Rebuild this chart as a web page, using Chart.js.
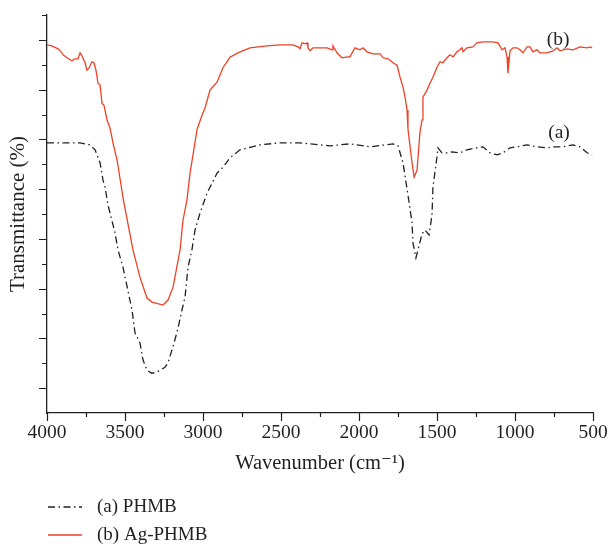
<!DOCTYPE html>
<html>
<head>
<meta charset="utf-8">
<script src="https://cdn.jsdelivr.net/npm/chart.js@4/dist/chart.umd.min.js"></script>
<style>
  html, body { margin: 0; padding: 0; background: #ffffff; }
  #wrap { width: 608px; height: 544px; position: relative; }
</style>
</head>
<body>
<div id="wrap"><canvas id="c" width="608" height="544"></canvas></div>
<script>
// ---- Data ----
const xTickLabels = [4000, 3500, 3000, 2500, 2000, 1500, 1000, 500];

// (a) PHMB
const phmbWavenumber = [4000, 3981, 3833, 3788, 3724, 3692, 3660, 3641, 3628, 3609, 3596, 3564, 3545, 3513, 3455, 3436, 3404, 3385, 3359, 3340, 3327, 3295, 3276, 3244, 3224, 3199, 3180, 3160, 3135, 3115, 3096, 3071, 3051, 3019, 2974, 2910, 2872, 2827, 2763, 2635, 2506, 2378, 2186, 2058, 1929, 1782, 1750, 1718, 1686, 1660, 1654, 1635, 1622, 1596, 1577, 1551, 1532, 1526, 1500, 1494, 1468, 1436, 1404, 1353, 1308, 1244, 1205, 1160, 1115, 1077, 1032, 987, 923, 859, 795, 756, 692, 628, 583, 538, 506];
const phmbTransmittance = [54.3, 54.3, 54.3, 54.3, 53.9, 52.9, 50.3, 46.8, 45.4, 41.8, 40.2, 36.2, 32.8, 29.3, 20.7, 16.1, 14.1, 10.7, 8.6, 8.2, 8.0, 8.2, 8.6, 9.2, 10.1, 12.7, 14.7, 17.1, 20.7, 23.3, 29.3, 32.8, 36.8, 40.2, 44.2, 48.2, 49.4, 51.3, 52.9, 53.9, 54.3, 54.3, 53.7, 54.1, 53.5, 54.1, 53.7, 50.3, 43.8, 38.2, 34.2, 31.2, 32.8, 36.0, 36.8, 35.8, 39.8, 45.4, 51.5, 53.3, 52.3, 52.3, 52.5, 52.3, 52.9, 53.3, 53.5, 52.3, 51.9, 52.3, 53.3, 53.5, 53.9, 53.5, 53.3, 53.5, 53.5, 53.9, 53.5, 52.3, 51.9];

// (b) Ag-PHMB
const agWavenumber = [4000, 3970, 3929, 3904, 3897, 3872, 3840, 3821, 3801, 3788, 3776, 3756, 3744, 3731, 3712, 3699, 3686, 3673, 3660, 3647, 3635, 3615, 3596, 3577, 3551, 3510, 3449, 3404, 3359, 3327, 3256, 3224, 3192, 3147, 3128, 3103, 3083, 3038, 3006, 2987, 2955, 2910, 2872, 2827, 2776, 2699, 2590, 2506, 2423, 2391, 2378, 2365, 2346, 2333, 2327, 2314, 2295, 2282, 2250, 2205, 2173, 2167, 2141, 2109, 2071, 2058, 2026, 1994, 1974, 1949, 1910, 1865, 1846, 1814, 1782, 1756, 1737, 1718, 1705, 1692, 1686, 1660, 1647, 1628, 1609, 1596, 1590, 1564, 1545, 1526, 1500, 1481, 1462, 1436, 1417, 1397, 1372, 1353, 1340, 1333, 1308, 1269, 1244, 1205, 1141, 1109, 1083, 1064, 1051, 1045, 1032, 1013, 987, 968, 949, 923, 904, 885, 859, 840, 795, 756, 731, 712, 667, 628, 583, 538, 519, 506];
const agTransmittance = [74.0, 73.8, 73.2, 72.4, 72.0, 71.4, 70.8, 71.2, 71.2, 72.4, 71.8, 70.4, 68.9, 69.3, 70.6, 70.4, 68.9, 66.3, 65.9, 62.2, 61.9, 58.9, 57.3, 54.3, 50.9, 42.8, 32.8, 27.3, 23.1, 22.3, 21.7, 22.7, 25.3, 32.8, 38.8, 42.8, 48.2, 57.0, 59.9, 61.3, 64.9, 66.5, 69.4, 71.5, 72.4, 73.4, 73.8, 74.0, 74.0, 73.6, 73.2, 74.4, 74.2, 74.4, 73.4, 72.8, 73.4, 73.4, 73.4, 73.4, 73.0, 73.8, 72.4, 71.4, 71.6, 71.6, 73.4, 73.0, 73.4, 72.6, 72.2, 72.2, 71.4, 71.2, 70.4, 69.9, 67.5, 65.5, 63.5, 60.9, 57.0, 50.3, 47.4, 48.8, 56.5, 58.9, 63.5, 64.9, 66.3, 67.5, 69.5, 70.6, 70.4, 71.4, 72.0, 71.6, 72.6, 73.0, 73.4, 72.6, 73.4, 73.6, 74.4, 74.6, 74.6, 74.4, 73.0, 73.4, 71.6, 68.3, 72.8, 73.4, 73.4, 73.0, 72.4, 73.6, 73.6, 72.6, 73.0, 72.4, 72.4, 72.8, 73.4, 72.8, 73.2, 73.0, 73.6, 73.4, 73.6, 73.4];

const seriesNames = ['(a) PHMB', '(b) Ag-PHMB'];
const curveTags = ['(a)', '(b)'];

// ---- Styling ----
const INK = '#231f20';
const RED = 'rgb(238,66,38)';
const FONT = '"Liberation Serif", "DejaVu Serif", serif';
const BLACK_DASH = [7, 3.5, 1.5, 3.5];

function pts(xs, ys) { return xs.map((x, i) => ({ x: x, y: ys[i] })); }

const tickMarksPlugin = {
  id: 'tickMarks',
  afterDraw(chart) {
    const ctx = chart.ctx;
    const xs = chart.scales.x, ys = chart.scales.y;
    ctx.save();
    ctx.strokeStyle = INK;
    ctx.lineWidth = 1.2;
    ctx.beginPath();
    for (let v = 500; v <= 4000; v += 250) {
      const px = Math.round(xs.getPixelForValue(v)) + 0.5;
      const len = (v % 500 === 0) ? 8 : 4;
      ctx.moveTo(px, xs.top);
      ctx.lineTo(px, xs.top + len);
    }
    for (let v = 5; v <= 80; v += 5) {
      const py = Math.round(ys.getPixelForValue(v)) + 0.5;
      const len = (v % 10 === 0) ? 5 : 8;
      ctx.moveTo(ys.right, py);
      ctx.lineTo(ys.right - len, py);
    }
    ctx.stroke();

    ctx.fillStyle = INK;
    ctx.font = '19.5px ' + FONT;
    ctx.textAlign = 'center';
    ctx.textBaseline = 'middle';
    ctx.fillText(curveTags[0], xs.getPixelForValue(718), ys.getPixelForValue(56.3));
    ctx.fillText(curveTags[1], xs.getPixelForValue(724), ys.getPixelForValue(75.0));

    const lx0 = 48, lx1 = 82, tx = 97;
    const rows = [507, 535];
    ctx.lineWidth = 1.3;
    ctx.strokeStyle = INK;
    ctx.setLineDash(BLACK_DASH);
    ctx.beginPath(); ctx.moveTo(lx0, rows[0]); ctx.lineTo(lx1, rows[0]); ctx.stroke();
    ctx.setLineDash([]);
    ctx.strokeStyle = RED;
    ctx.beginPath(); ctx.moveTo(lx0, rows[1]); ctx.lineTo(lx1, rows[1]); ctx.stroke();
    ctx.textAlign = 'left';
    ctx.fillStyle = INK;
    ctx.font = '19px ' + FONT;
    ctx.fillText(seriesNames[0], tx, rows[0]);
    ctx.fillText(seriesNames[1], tx, rows[1]);
    ctx.restore();
  }
};

new Chart(document.getElementById('c'), {
  type: 'line',
  data: {
    datasets: [
      {
        label: seriesNames[0],
        data: pts(phmbWavenumber, phmbTransmittance),
        borderColor: INK,
        borderWidth: 1.3,
        borderDash: BLACK_DASH,
        pointRadius: 0,
        tension: 0,
        fill: false
      },
      {
        label: seriesNames[1],
        data: pts(agWavenumber, agTransmittance),
        borderColor: RED,
        borderWidth: 1.3,
        pointRadius: 0,
        tension: 0,
        fill: false
      }
    ]
  },
  plugins: [tickMarksPlugin],
  options: {
    responsive: false,
    animation: false,
    events: [],
    layout: { padding: { top: 15, right: 15, bottom: 68, left: 0 } },
    plugins: { legend: { display: false }, tooltip: { enabled: false } },
    scales: {
      x: {
        type: 'linear',
        reverse: true,
        min: 500,
        max: 4000,
        afterBuildTicks: (s) => { s.ticks = xTickLabels.map(v => ({ value: v })); },
        afterFit: (s) => { s.height = 63; },
        grid: { display: false, drawTicks: true, tickLength: 8 },
        border: { display: true, color: INK, width: 1.3 },
        ticks: { color: INK, font: { family: FONT, size: 19.5 }, padding: 0, maxRotation: 0, autoSkip: false,
                 callback: (v) => String(v) },
        title: { display: true, text: 'Wavenumber (cm⁻¹)', color: INK, font: { family: FONT, size: 20.5, lineHeight: 1.2 }, padding: { top: 0, bottom: 0 } }
      },
      y: {
        type: 'linear',
        min: 0,
        max: 80,
        afterFit: (s) => { s.width = 47; },
        grid: { display: false, drawTicks: false },
        border: { display: true, color: INK, width: 1.3 },
        ticks: { display: false, stepSize: 5 },
        title: { display: true, text: 'Transmittance (%)', color: INK, font: { family: FONT, size: 21, lineHeight: 1.2 }, padding: { top: 6, bottom: 0 } }
      }
    }
  }
});
</script>
</body>
</html>
